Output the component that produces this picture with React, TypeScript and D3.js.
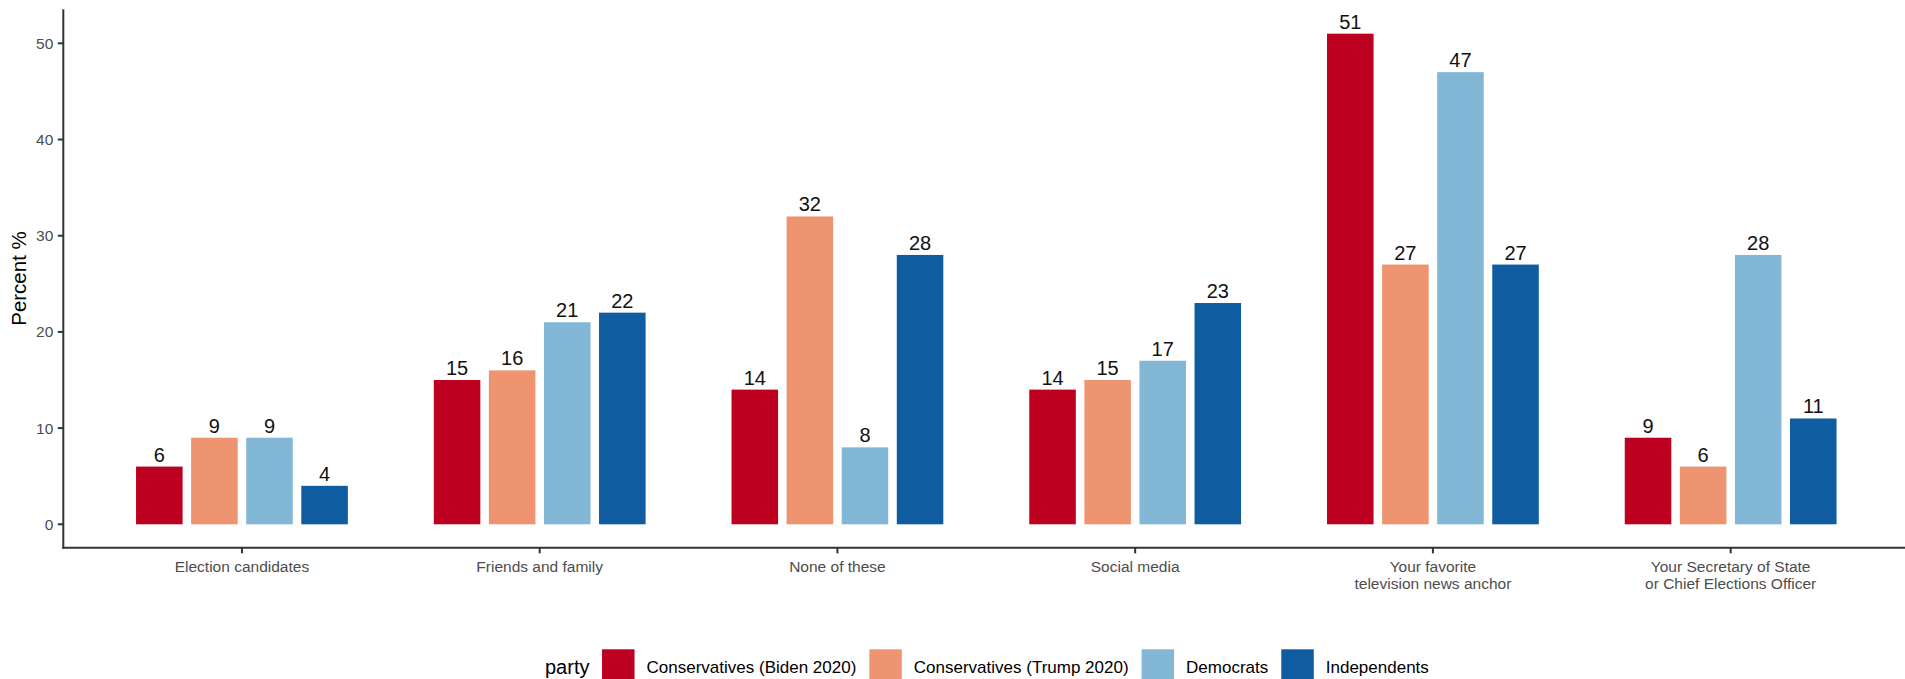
import React from "react";
import * as d3 from "d3";

const categories = [
  "Election candidates",
  "Friends and family",
  "None of these",
  "Social media",
  "Your favorite\ntelevision news anchor",
  "Your Secretary of State\nor Chief Elections Officer",
];
const parties = [
  "Conservatives (Biden 2020)",
  "Conservatives (Trump 2020)",
  "Democrats",
  "Independents",
];
const conservativesBiden = [6, 15, 14, 14, 51, 9];
const conservativesTrump = [9, 16, 32, 15, 27, 6];
const democrats = [9, 21, 8, 17, 47, 28];
const independents = [4, 22, 28, 23, 27, 11];
const yTicks = [0, 10, 20, 30, 40, 50];
const partyColors = ["#bd0020", "#ef9470", "#83b7d6", "#0f5ca0"];
const legendTitle = "party";
const yTitle = "Percent %";

const seriesValues = [conservativesBiden, conservativesTrump, democrats, independents];

const W = 1905;
const H = 679;
const FONT = "'Liberation Sans', Arial, Helvetica, sans-serif";

function measure(text: string, size: number): number {
  const c = document.createElement("canvas");
  const ctx = c.getContext("2d");
  if (!ctx) return text.length * size * 0.5;
  ctx.font = `${size}px 'Liberation Sans', Arial, sans-serif`;
  return ctx.measureText(text).width;
}

export default function App() {
  const plotLeft = 63.3;
  const plotRight = 1909.3;

  const x0 = d3
    .scaleBand<string>()
    .domain(categories)
    .range([plotLeft, plotRight])
    .paddingInner(0)
    .paddingOuter(0.1);
  const step = x0.step();
  const x1 = d3
    .scaleBand<string>()
    .domain(parties)
    .range([-0.37 * step, 0.37 * step])
    .paddingInner(0.155)
    .paddingOuter(0.0775);

  const y = d3.scaleLinear().domain([0, 50]).range([524.3, 43.3]);
  const axisBottom = y(-2.45);
  const axisTop = y(53.55);

  const axisColor = "#333333";
  const tickColor = "#4d4d4d";

  // legend layout
  const titleSize = 20;
  const labelSize = 17;
  const keyW = 32.5;
  const keyH = 33;
  const gapTitleKey = 12.6;
  const gapKeyLabel = 12;
  const gapLabelKey = 13;
  const titleW = measure(legendTitle, titleSize);
  const labelWs = parties.map((p) => measure(p, labelSize));
  let total = titleW;
  labelWs.forEach((w) => {
    total += gapTitleKey + keyW + gapKeyLabel + w;
  });
  total += 0;
  const legendStart = (plotLeft + plotRight) / 2 - total / 2;
  const legendItems: { keyX: number; labelX: number }[] = [];
  let cursor = legendStart + titleW + gapTitleKey;
  labelWs.forEach((w, i) => {
    const keyX = cursor;
    const labelX = keyX + keyW + gapKeyLabel;
    legendItems.push({ keyX, labelX });
    cursor = labelX + w + gapLabelKey;
  });
  const keyY = 649.3;

  return (
    <svg
      width={W}
      height={H}
      style={{ position: "absolute", left: 0, top: 0, display: "block", background: "#fff" }}
      fontFamily={FONT}
    >
      <rect x={0} y={0} width={W} height={H} fill="#ffffff" />

      {/* bars */}
      {categories.map((cat, ci) => {
        const cx = (x0(cat) as number) + x0.bandwidth() / 2;
        return (
          <g key={cat}>
            {parties.map((p, pi) => {
              const v = seriesValues[pi][ci];
              const bx = cx + (x1(p) as number);
              const bw = x1.bandwidth();
              return (
                <g key={p}>
                  <rect
                    x={bx}
                    y={y(v)}
                    width={bw}
                    height={y(0) - y(v)}
                    fill={partyColors[pi]}
                  />
                  <text
                    x={bx + bw / 2}
                    y={y(v) - 5}
                    textAnchor="middle"
                    fontSize={20}
                    fill="#111111"
                  >
                    {v}
                  </text>
                </g>
              );
            })}
          </g>
        );
      })}

      {/* y axis */}
      <line x1={plotLeft} x2={plotLeft} y1={axisTop} y2={axisBottom + 1} stroke={axisColor} strokeWidth={2} />
      {yTicks.map((t) => (
        <g key={t}>
          <line x1={plotLeft - 5.5} x2={plotLeft} y1={y(t)} y2={y(t)} stroke={axisColor} strokeWidth={2} />
          <text
            x={plotLeft - 10}
            y={y(t)}
            dy="0.36em"
            textAnchor="end"
            fontSize={15.5}
            fill={tickColor}
          >
            {t}
          </text>
        </g>
      ))}
      <text
        transform={`translate(26, ${(axisTop + axisBottom) / 2}) rotate(-90)`}
        textAnchor="middle"
        fontSize={20.5}
        fill="#000000"
      >
        {yTitle}
      </text>

      {/* x axis */}
      <line x1={plotLeft - 1} x2={W} y1={axisBottom} y2={axisBottom} stroke={axisColor} strokeWidth={2} />
      {categories.map((cat) => {
        const cx = (x0(cat) as number) + x0.bandwidth() / 2;
        const lines = cat.split("\n");
        return (
          <g key={cat}>
            <line x1={cx} x2={cx} y1={axisBottom} y2={axisBottom + 5.5} stroke={axisColor} strokeWidth={2} />
            <text textAnchor="middle" fontSize={15.5} fill={tickColor}>
              {lines.map((ln, li) => (
                <tspan key={li} x={cx} y={571.5 + li * 17}>
                  {ln}
                </tspan>
              ))}
            </text>
          </g>
        );
      })}

      {/* legend */}
      <text x={legendStart} y={674} fontSize={titleSize} fill="#000000">
        {legendTitle}
      </text>
      {parties.map((p, i) => (
        <g key={p}>
          <rect x={legendItems[i].keyX} y={keyY} width={keyW} height={keyH} fill={partyColors[i]} />
          <text x={legendItems[i].labelX} y={673} fontSize={labelSize} fill="#000000">
            {p}
          </text>
        </g>
      ))}
    </svg>
  );
}
